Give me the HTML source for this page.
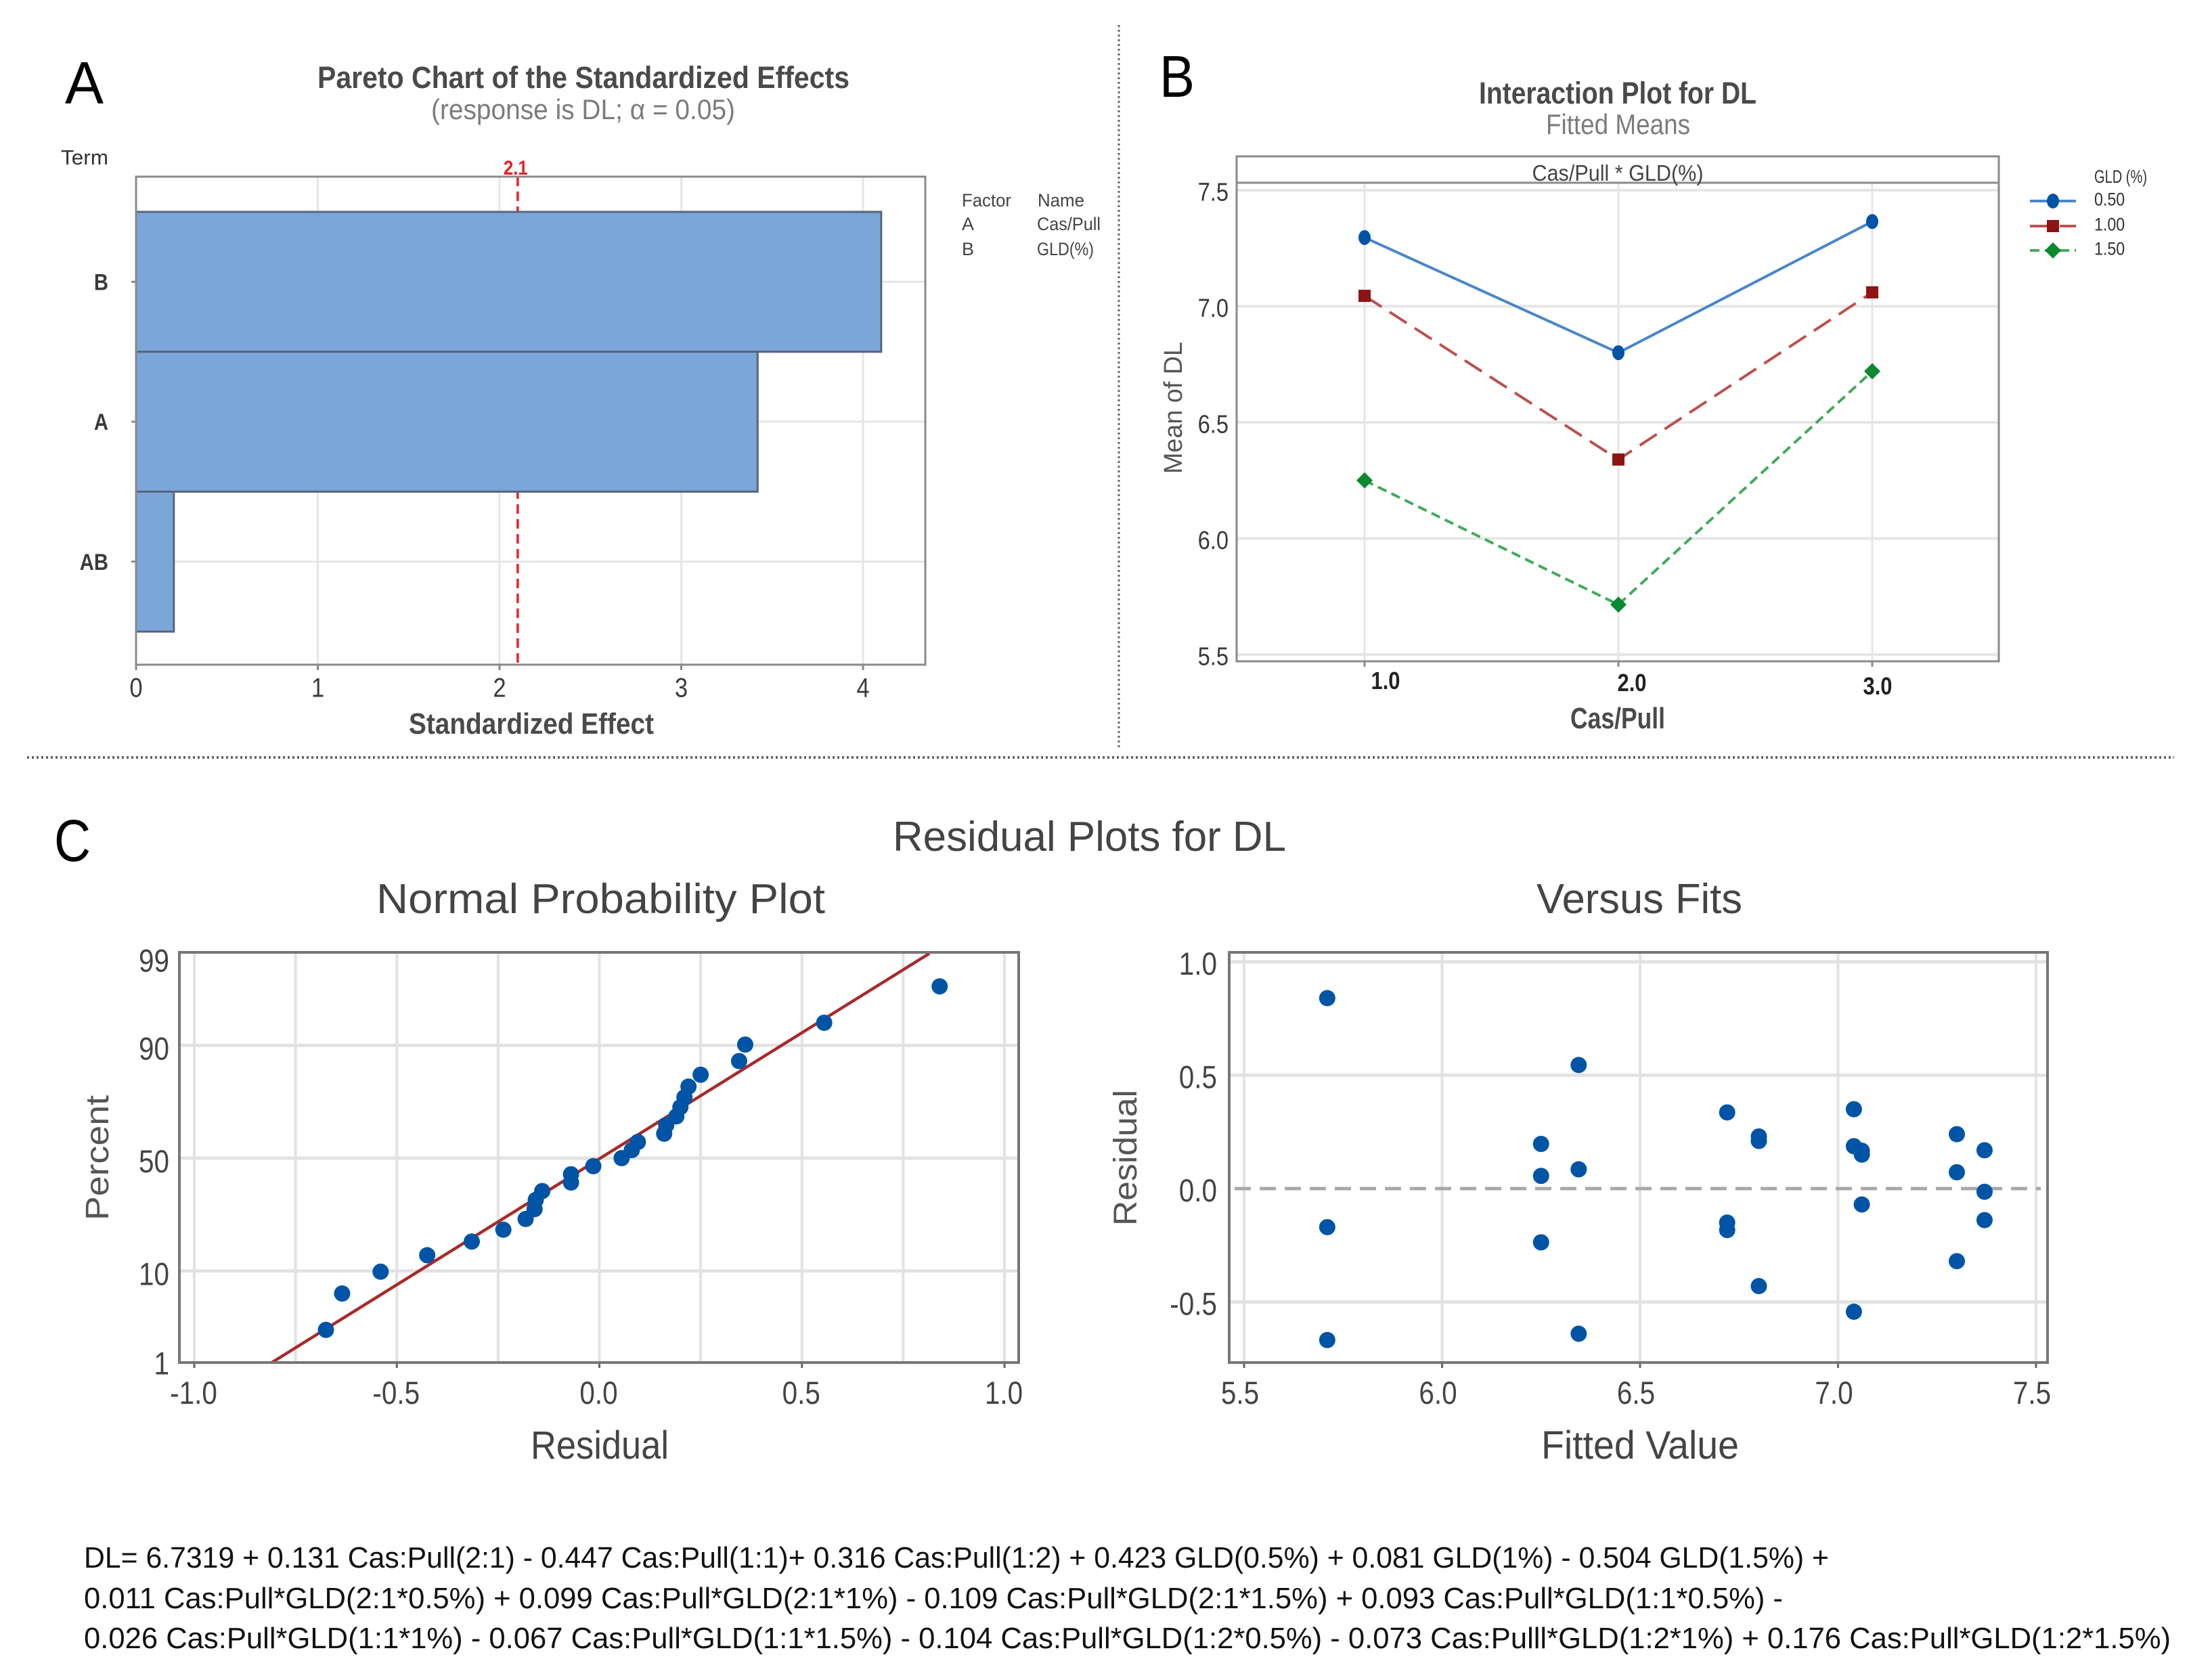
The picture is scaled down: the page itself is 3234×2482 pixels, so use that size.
<!DOCTYPE html>
<html lang="en">
<head>
<meta charset="utf-8">
<title>DL statistical analysis figure</title>
<style>
html,body{margin:0;padding:0;background:#fff}
svg{display:block}
text{font-family:"Liberation Sans",sans-serif}
</style>
</head>
<body>
<svg id="figure" xmlns="http://www.w3.org/2000/svg" width="3234" height="2482" viewBox="0 0 3234 2482">
<rect x="0" y="0" width="3234" height="2482" fill="#fff"/>
<line x1="1653" y1="37" x2="1653" y2="1107" stroke="#666" stroke-width="3" stroke-dasharray="3 4"/>
<line x1="40" y1="1119" x2="3212" y2="1119" stroke="#666" stroke-width="4" stroke-dasharray="3 4"/>
<text x="96" y="153" font-size="88" fill="#000" textLength="57" lengthAdjust="spacingAndGlyphs">A</text>
<text x="1713" y="143" font-size="87" fill="#000" textLength="52" lengthAdjust="spacingAndGlyphs">B</text>
<text x="80" y="1272" font-size="87" fill="#000" textLength="54" lengthAdjust="spacingAndGlyphs">C</text>

<text x="469" y="130" font-size="45" font-weight="700" fill="#4a4a4a" textLength="786" lengthAdjust="spacingAndGlyphs">Pareto Chart of the Standardized Effects</text>
<text x="637" y="176" font-size="42" fill="#7c7c7c" textLength="449" lengthAdjust="spacingAndGlyphs">(response is DL; α = 0.05)</text>
<text x="90" y="243" font-size="31" fill="#333" textLength="70" lengthAdjust="spacingAndGlyphs">Term</text>
<text x="604" y="1084" font-size="44" font-weight="700" fill="#4a4a4a" textLength="362" lengthAdjust="spacingAndGlyphs">Standardized Effect</text>
<text x="1421" y="305" font-size="27" fill="#444" textLength="73" lengthAdjust="spacingAndGlyphs">Factor</text>
<text x="1533" y="305" font-size="27" fill="#444" textLength="69" lengthAdjust="spacingAndGlyphs">Name</text>
<text x="1421" y="340" font-size="27" fill="#444">A</text>
<text x="1532" y="340" font-size="27" fill="#444" textLength="94" lengthAdjust="spacingAndGlyphs">Cas/Pull</text>
<text x="1421" y="377" font-size="27" fill="#444">B</text>
<text x="1532" y="377" font-size="27" fill="#444" textLength="84" lengthAdjust="spacingAndGlyphs">GLD(%)</text>
<g id="pareto"></g>

<text x="2185" y="153" font-size="45" font-weight="700" fill="#4a4a4a" textLength="410" lengthAdjust="spacingAndGlyphs">Interaction Plot for DL</text>
<text x="2284" y="198" font-size="42" fill="#7c7c7c" textLength="213" lengthAdjust="spacingAndGlyphs">Fitted Means</text>
<text x="2320" y="1076" font-size="44" font-weight="700" fill="#4a4a4a" textLength="140" lengthAdjust="spacingAndGlyphs">Cas/Pull</text>
<text x="0" y="0" transform="translate(1746,700) rotate(-90)" font-size="38" fill="#555" textLength="195" lengthAdjust="spacingAndGlyphs">Mean of DL</text>
<text x="3094" y="270" font-size="27" fill="#333" textLength="78" lengthAdjust="spacingAndGlyphs">GLD (%)</text>
<g id="interaction"></g>

<text x="1319" y="1257" font-size="62" fill="#444" textLength="581" lengthAdjust="spacingAndGlyphs">Residual Plots for DL</text>
<text x="556" y="1349" font-size="62" fill="#444" textLength="663" lengthAdjust="spacingAndGlyphs">Normal Probability Plot</text>
<text x="2270" y="1349" font-size="62" fill="#444" textLength="304" lengthAdjust="spacingAndGlyphs">Versus Fits</text>
<text x="784" y="2155" font-size="58" fill="#444" textLength="204" lengthAdjust="spacingAndGlyphs">Residual</text>
<text x="0" y="0" transform="translate(160,1803) rotate(-90)" font-size="48" fill="#555" textLength="185" lengthAdjust="spacingAndGlyphs">Percent</text>
<text x="2277" y="2155" font-size="58" fill="#444" textLength="292" lengthAdjust="spacingAndGlyphs">Fitted Value</text>
<text x="0" y="0" transform="translate(1679,1811) rotate(-90)" font-size="48" fill="#555" textLength="201" lengthAdjust="spacingAndGlyphs">Residual</text>
<g id="normal"></g>
<g id="fits"></g>

<text x="124" y="2316" font-size="44" fill="#111" textLength="2578" lengthAdjust="spacingAndGlyphs">DL= 6.7319 + 0.131 Cas:Pull(2:1) - 0.447 Cas:Pull(1:1)+ 0.316 Cas:Pull(1:2) + 0.423 GLD(0.5%) + 0.081 GLD(1%) - 0.504 GLD(1.5%) +</text>
<text x="124" y="2376" font-size="44" fill="#111" textLength="2510" lengthAdjust="spacingAndGlyphs">0.011 Cas:Pull*GLD(2:1*0.5%) + 0.099 Cas:Pull*GLD(2:1*1%) - 0.109 Cas:Pull*GLD(2:1*1.5%) + 0.093 Cas:Pull*GLD(1:1*0.5%) -</text>
<text x="124" y="2435" font-size="44" fill="#111" textLength="3083" lengthAdjust="spacingAndGlyphs">0.026 Cas:Pull*GLD(1:1*1%) - 0.067 Cas:Pull*GLD(1:1*1.5%) - 0.104 Cas:Pull*GLD(1:2*0.5%) - 0.073 Cas:Pulll*GLD(1:2*1%) + 0.176 Cas:Pull*GLD(1:2*1.5%)</text>
</svg>
<script>
// Pareto chart data
const paretoTerms = ['B', 'A', 'AB'];
const paretoEffects = [4.10, 3.42, 0.208];
const paretoTicks = [0, 1, 2, 3, 4];
const paretoCritical = 2.1;

// Interaction plot data
const interactionLevels = [1, 2, 3];
const interactionLevelLabels = ['1.0', '2.0', '3.0'];
const interactionYTicks = [5.5, 6.0, 6.5, 7.0, 7.5];
const gld050 = [7.296, 6.80, 7.365];
const gld100 = [7.045, 6.34, 7.06];
const gld150 = [6.25, 5.715, 6.72];
const gldNames = ['0.50', '1.00', '1.50'];

// Normal probability plot data
const normalResiduals = [-0.675, -0.635, -0.54, -0.425, -0.315, -0.237, -0.182, -0.16, -0.157, -0.141, -0.07, -0.07, -0.015, 0.055, 0.08, 0.095, 0.16, 0.165, 0.19, 0.20, 0.21, 0.22, 0.25, 0.345, 0.36, 0.555, 0.84];
const normalPercents = [2.55, 6.2, 9.85, 13.5, 17.15, 20.8, 24.45, 28.1, 31.75, 35.4, 39.05, 42.7, 46.35, 50, 53.65, 57.3, 60.95, 64.6, 68.25, 71.9, 75.55, 79.2, 82.85, 86.5, 90.15, 93.8, 97.45];
const normalFitResiduals = [-0.81, 0.815];
const normalFitPercents = [1, 99];
const normalXTicks = [-1.0, -0.5, 0.0, 0.5, 1.0];
const normalXGrid = [-1.0, -0.75, -0.5, -0.25, 0.0, 0.25, 0.5, 0.75, 1.0];
const normalYTicks = [1, 10, 50, 90, 99];

// Versus fits data
const fittedValues = [5.71, 5.71, 5.71, 6.25, 6.25, 6.25, 6.345, 6.345, 6.345, 6.72, 6.72, 6.72, 6.80, 6.80, 6.80, 7.04, 7.04, 7.04, 7.06, 7.06, 7.06, 7.30, 7.30, 7.30, 7.37, 7.37, 7.37];
const fitResiduals = [0.84, -0.17, -0.668, 0.197, 0.056, -0.237, 0.545, 0.085, -0.64, 0.336, -0.15, -0.183, 0.23, 0.21, -0.43, 0.35, 0.187, -0.543, 0.167, 0.15, -0.07, 0.24, 0.072, -0.32, 0.169, -0.014, -0.139];
const fitXTicks = [5.5, 6.0, 6.5, 7.0, 7.5];
const fitYTicks = [-0.5, 0.0, 0.5, 1.0];

const NS = 'http://www.w3.org/2000/svg';
function make(parent, tag, props) {
  const el = document.createElementNS(NS, tag);
  for (const k in props) el.setAttribute(k, props[k]);
  parent.appendChild(el);
  return el;
}
function segment(parent, x1, y1, x2, y2, color, width, dash) {
  const p = {x1: x1, y1: y1, x2: x2, y2: y2, stroke: color, 'stroke-width': width};
  if (dash) p['stroke-dasharray'] = dash;
  return make(parent, 'line', p);
}
function label(parent, str, x, cy, size, color, anchor, weight) {
  const t = make(parent, 'text', {x: x, y: cy + size * 0.36, 'font-size': size, fill: color, 'text-anchor': anchor || 'middle', 'font-weight': weight || 'normal'});
  t.textContent = str;
  t.setAttribute('textLength', (t.getComputedTextLength() * 0.86).toFixed(1));
  t.setAttribute('lengthAdjust', 'spacingAndGlyphs');
  return t;
}
function tagged(el, name) {
  
  
  return el;
}
const GRID = '#e6e6e6';
const FRAME = '#8a8a8a';
const TICKC = '#3a3a3a';

// ---------- Pareto ----------
(function () {
  const g = document.getElementById('pareto');
  const L = 201, R = 1367, T = 261, B = 982;
  const px = v => L + v * 268.5;
  const band = i => 313 + i * 206.7;
  paretoTicks.forEach(v => {
    if (v > 0) tagged(segment(g, px(v), T, px(v), B, GRID, 3), 'pareto-gridline-x');
    tagged(segment(g, px(v), B, px(v), B + 8, FRAME, 3), 'pareto-x-tick');
    tagged(label(g, String(v), px(v), 1015, 40, TICKC), 'pareto-x-tick-label');
  });
  paretoTerms.forEach((term, i) => {
    const cy = band(i) + 103.3;
    tagged(segment(g, L, cy, R, cy, GRID, 3), 'pareto-gridline-y');
    tagged(segment(g, L - 7, cy, L, cy, FRAME, 3), 'pareto-y-tick');
    tagged(label(g, term, 160, cy, 34, TICKC, 'end', 'bold'), 'pareto-term-tick-label');
  });
  tagged(segment(g, px(paretoCritical), T, px(paretoCritical), B, '#e8202a', 3.5, '14 8'), 'critical-value-line');
  tagged(label(g, String(paretoCritical), px(paretoCritical) - 3, 247, 30, '#e8202a', 'middle', 'bold'), 'critical-value-label');
  paretoEffects.forEach((v, i) => {
    const bar = make(g, 'rect', {x: L, y: band(i), width: px(v) - L, height: 206.7, fill: '#7ba6da', stroke: '#58657a', 'stroke-width': 3});
    
    
  });
  const frame = make(g, 'rect', {x: L, y: T, width: R - L, height: B - T, fill: 'none', stroke: FRAME, 'stroke-width': 3});
  tagged(frame, 'pareto-plot-frame');
})();

// ---------- Interaction ----------
(function () {
  const g = document.getElementById('interaction');
  const L = 1827, R = 2953, T = 270, B = 977;
  const px = v => 2016 + (v - 1) * 375;
  const py = v => 967 - (v - 5.5) * 343;
  interactionYTicks.forEach(v => {
    tagged(segment(g, L, py(v), R, py(v), GRID, 4), 'interaction-gridline-y');
    tagged(label(g, v.toFixed(1), 1815, py(v) + 2, 38, TICKC, 'end'), 'interaction-y-tick-label');
  });
  const labelDx = [31, 20, 8];
  const labelY = [1005, 1008, 1013];
  interactionLevels.forEach((v, i) => {
    tagged(segment(g, px(v), T, px(v), B, GRID, 3), 'interaction-gridline-x');
    tagged(segment(g, px(v), B, px(v), B + 8, FRAME, 3), 'interaction-x-tick');
    tagged(label(g, interactionLevelLabels[i], px(v) + labelDx[i], labelY[i], 36, '#222', 'middle', 'bold'), 'interaction-x-tick-label');
  });
  const seriesValues = [gld050, gld100, gld150];
  const lineColors = ['#4a86c9', '#b9524f', '#44aa5c'];
  const markColors = ['#0054a6', '#8e1414', '#0a8a30'];
  const dashes = ['', '30 14', '14 8'];
  function marker(kind, cx, cy, color) {
    if (kind === 0) return make(g, 'ellipse', {cx: cx, cy: cy, rx: 9, ry: 11, fill: color});
    if (kind === 1) return make(g, 'rect', {x: cx - 9, y: cy - 9, width: 18, height: 18, fill: color});
    const d = 12;
    return make(g, 'polygon', {points: [cx, cy - d, cx + d, cy, cx, cy + d, cx - d, cy].join(' ').replace(/(\S+) (\S+) /g, '$1,$2 ').replace(/(\S+) (\S+)$/, '$1,$2'), fill: color});
  }
  seriesValues.forEach((vals, s) => {
    const pts = vals.map((v, i) => px(interactionLevels[i]) + ',' + py(v)).join(' ');
    const pl = make(g, 'polyline', {points: pts, fill: 'none', stroke: lineColors[s], 'stroke-width': 4});
    if (dashes[s]) pl.setAttribute('stroke-dasharray', dashes[s]);
    
    
    vals.forEach((v, i) => {
      const m = marker(s, px(interactionLevels[i]), py(v), markColors[s]);
      
      
    });
    const ly = [297, 334, 370][s];
    const ll = segment(g, 2999, ly, 3067, ly, lineColors[s], 4, dashes[s]);
    
    
    const lm = marker(s, 3033, ly, markColors[s]);
    
    
    const lt = label(g, gldNames[s], 3094, ly - 3, 27, '#333', 'start');
    
    
  });
  tagged(make(g, 'rect', {x: L, y: 231, width: R - L, height: B - 231, fill: 'none', stroke: FRAME, 'stroke-width': 3}), 'interaction-plot-frame');
  tagged(segment(g, L, T, R, T, FRAME, 3), 'interaction-strip-divider');
  const strip = label(g, 'Cas/Pull * GLD(%)', 2390, 255, 33, '#444');
  strip.setAttribute('textLength', '253');
  tagged(strip, 'interaction-strip-label');
})();

// ---------- Normal probability ----------
function probit(pct) {
  const p = pct / 100;
  const q = p < 0.5 ? p : 1 - p;
  const t = Math.sqrt(-2 * Math.log(q));
  const z = t - (2.515517 + 0.802853 * t + 0.010328 * t * t) / (1 + 1.432788 * t + 0.189269 * t * t + 0.001308 * t * t * t);
  return p < 0.5 ? -z : z;
}
(function () {
  const g = document.getElementById('normal');
  const L = 265, R = 1505, T = 1407, B = 2013;
  const px = v => 885.5 + v * 598.5;
  const py = p => 1711 - 130 * probit(p);
  normalXGrid.forEach(v => {
    tagged(segment(g, px(v), T, px(v), B, '#e2e2e2', 4), 'normal-gridline-x');
  });
  normalYTicks.forEach(p => {
    if (p !== 1 && p !== 99) tagged(segment(g, L, py(p), R, py(p), '#e2e2e2', 5), 'normal-gridline-y');
    const t = label(g, String(p), 250, p === 1 ? py(p) : (p === 99 ? py(p) + 10 : py(p) + 4), 47, '#444', 'end');
    tagged(t, 'normal-y-tick-label');
  });
  normalXTicks.forEach(v => {
    tagged(segment(g, px(v), B, px(v), B + 8, '#666', 3), 'normal-x-tick');
    tagged(label(g, v.toFixed(1), px(v) - 1, 2057, 47, '#444'), 'normal-x-tick-label');
  });
  const fit = segment(g, px(normalFitResiduals[0]), py(normalFitPercents[0]), px(normalFitResiduals[1]), py(normalFitPercents[1]), '#a82a2a', 4.5);
  tagged(fit, 'normal-fit-line');
  normalResiduals.forEach((r, i) => {
    const c = make(g, 'ellipse', {cx: px(r), cy: py(normalPercents[i]), rx: 12, ry: 12, fill: '#0054a6'});
    
    
  });
  tagged(make(g, 'rect', {x: L, y: T, width: R - L, height: B - T, fill: 'none', stroke: '#777', 'stroke-width': 4}), 'normal-plot-frame');
})();

// ---------- Versus fits ----------
(function () {
  const g = document.getElementById('fits');
  const L = 1816, R = 3025, T = 1407, B = 2013;
  const px = v => 1838 + (v - 5.5) * 585;
  const py = v => 1756 - v * 335;
  fitXTicks.forEach(v => {
    tagged(segment(g, px(v), T, px(v), B, '#e2e2e2', 4), 'fits-gridline-x');
    tagged(segment(g, px(v), B, px(v), B + 8, '#666', 3), 'fits-x-tick');
    tagged(label(g, v.toFixed(1), px(v) - 6, 2057, 47, '#444'), 'fits-x-tick-label');
  });
  fitYTicks.forEach(v => {
    if (v !== 0) tagged(segment(g, L, py(v), R, py(v), '#e2e2e2', 5), 'fits-gridline-y');
    tagged(label(g, v.toFixed(1), 1798, py(v) + 2, 47, '#444', 'end'), 'fits-y-tick-label');
  });
  tagged(segment(g, L + 8, py(0), R - 10, py(0), '#a8a8a8', 5, '24 13'), 'zero-reference-line');
  fittedValues.forEach((f, i) => {
    const c = make(g, 'ellipse', {cx: px(f), cy: py(fitResiduals[i]), rx: 12, ry: 12, fill: '#0054a6'});
    
    
  });
  tagged(make(g, 'rect', {x: L, y: T, width: R - L, height: B - T, fill: 'none', stroke: '#777', 'stroke-width': 4}), 'fits-plot-frame');
})();
</script>
</body>
</html>
